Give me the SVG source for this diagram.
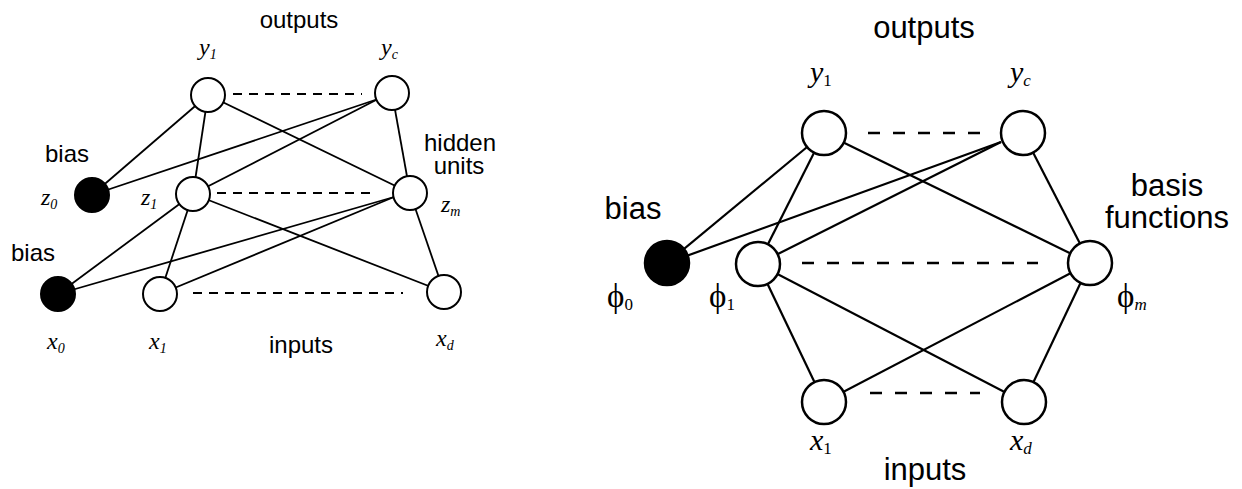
<svg xmlns="http://www.w3.org/2000/svg" width="1242" height="489" viewBox="0 0 1242 489">
<style>
  .bg{fill:#fff}
  .e1{stroke:#000;stroke-width:1.8;fill:none}
  .d1{stroke:#000;stroke-width:1.8;stroke-dasharray:9 7;fill:none}
  .e2{stroke:#000;stroke-width:2.2;fill:none}
  .d2{stroke:#000;stroke-width:2.6;stroke-dasharray:12 13;fill:none}
  .n1{fill:#fff;stroke:#000;stroke-width:2}
  .b1{fill:#000;stroke:#000;stroke-width:2}
  .n2{fill:#fff;stroke:#000;stroke-width:2.5}
  .b2{fill:#000;stroke:#000;stroke-width:2.5}
  .s1{font-family:"Liberation Sans",Arial,sans-serif;font-size:24px;text-anchor:middle;fill:#000}
  .s2{font-family:"Liberation Sans",Arial,sans-serif;font-size:31px;text-anchor:middle;fill:#000}
  .m1{font-family:"Liberation Serif","Times New Roman",serif;font-style:italic;font-size:24px;fill:#000}
  .m2{font-family:"Liberation Serif","Times New Roman",serif;font-style:italic;font-size:30px;fill:#000}
  .p2{font-family:"Liberation Serif","DejaVu Serif",serif;font-size:33px;fill:#000}
  .sb1{font-size:14px}
  .sb2{font-size:17px}
  .up{font-style:normal}
</style>
<rect class="bg" x="0" y="0" width="1242" height="489"/>

<g id="connectors">
  <!-- left network -->
  <line class="e1" x1="208" y1="95" x2="92" y2="195"/>
  <line class="e1" x1="208" y1="95" x2="193" y2="194"/>
  <line class="e1" x1="208" y1="95" x2="410" y2="193"/>
  <line class="e1" x1="378" y1="99" x2="92" y2="195"/>
  <line class="e1" x1="378" y1="99" x2="193" y2="194"/>
  <line class="e1" x1="392" y1="93" x2="410" y2="193"/>
  <line class="e1" x1="193" y1="194" x2="58" y2="294"/>
  <line class="e1" x1="193" y1="194" x2="160" y2="294"/>
  <line class="e1" x1="193" y1="194" x2="444" y2="292"/>
  <line class="e1" x1="394" y1="197" x2="58" y2="294"/>
  <line class="e1" x1="394" y1="197" x2="160" y2="294"/>
  <line class="e1" x1="410" y1="193" x2="444" y2="292"/>
  <line class="d1" x1="233" y1="94" x2="362" y2="94"/>
  <line class="d1" x1="217" y1="193" x2="377" y2="193"/>
  <line class="d1" x1="193" y1="293" x2="403" y2="293"/>
  <!-- right network -->
  <line class="e2" x1="824" y1="133" x2="667" y2="263"/>
  <line class="e2" x1="824" y1="133" x2="758" y2="264"/>
  <line class="e2" x1="824" y1="133" x2="1090" y2="263"/>
  <line class="e2" x1="1001" y1="142" x2="667" y2="263"/>
  <line class="e2" x1="1001" y1="142" x2="758" y2="264"/>
  <line class="e2" x1="1023" y1="133" x2="1090" y2="263"/>
  <line class="e2" x1="758" y1="264" x2="824" y2="402"/>
  <line class="e2" x1="758" y1="264" x2="1024" y2="402"/>
  <line class="e2" x1="1090" y1="263" x2="824" y2="402"/>
  <line class="e2" x1="1090" y1="263" x2="1024" y2="402"/>
  <line class="d2" x1="868" y1="133" x2="980" y2="133"/>
  <line class="d2" x1="802" y1="263" x2="1038" y2="263"/>
  <line class="d2" x1="870" y1="393" x2="980" y2="393"/>
</g>

<!-- left network nodes -->
<g id="L_y1"><circle class="n1" cx="208" cy="95" r="17"/><text class="m1" x="199" y="55">y<tspan class="sb1" dy="4">1</tspan></text></g>
<g id="L_yc"><circle class="n1" cx="392" cy="93" r="17"/><text class="m1" x="381" y="55">y<tspan class="sb1" dy="4">c</tspan></text></g>
<g id="L_z0"><circle class="b1" cx="92" cy="195" r="17"/><text class="m1" x="41" y="205">z<tspan class="sb1" dy="4">0</tspan></text></g>
<g id="L_z1"><circle class="n1" cx="193" cy="194" r="17"/><text class="m1" x="141" y="205">z<tspan class="sb1" dy="4">1</tspan></text></g>
<g id="L_zm"><circle class="n1" cx="410" cy="193" r="17"/><text class="m1" x="441" y="212">z<tspan class="sb1" dy="4">m</tspan></text></g>
<g id="L_x0"><circle class="b1" cx="58" cy="294" r="17"/><text class="m1" x="47" y="349">x<tspan class="sb1" dy="4">0</tspan></text></g>
<g id="L_x1"><circle class="n1" cx="160" cy="294" r="17"/><text class="m1" x="149" y="349">x<tspan class="sb1" dy="4">1</tspan></text></g>
<g id="L_xd"><circle class="n1" cx="444" cy="292" r="17"/><text class="m1" x="436" y="346">x<tspan class="sb1" dy="4">d</tspan></text></g>
<g id="L_labels">
  <text class="s1" x="299" y="28">outputs</text>
  <text class="s1" x="67" y="162">bias</text>
  <text class="s1" x="460" y="151">hidden</text>
  <text class="s1" x="459" y="174">units</text>
  <text class="s1" x="33" y="261">bias</text>
  <text class="s1" x="301" y="353">inputs</text>
</g>

<!-- right network nodes -->
<g id="R_y1"><ellipse class="n2" cx="824" cy="133" rx="22" ry="22"/><text class="m2" x="810" y="82">y<tspan class="sb2 up" dy="4">1</tspan></text></g>
<g id="R_yc"><ellipse class="n2" cx="1023" cy="133" rx="22" ry="22"/><text class="m2" x="1010" y="82">y<tspan class="sb2" dy="4">c</tspan></text></g>
<g id="R_phi0"><circle class="b2" cx="667" cy="263" r="22"/><text class="p2" x="607" y="307">ϕ<tspan class="sb2" dy="3">0</tspan></text></g>
<g id="R_phi1"><circle class="n2" cx="758" cy="264" r="22"/><text class="p2" x="709" y="307">ϕ<tspan class="sb2" dy="3">1</tspan></text></g>
<g id="R_phim"><circle class="n2" cx="1090" cy="263" r="22"/><text class="p2" x="1117" y="307">ϕ<tspan class="sb2" font-style="italic" dy="3">m</tspan></text></g>
<g id="R_x1"><circle class="n2" cx="824" cy="402" r="22"/><text class="m2" x="810" y="450">x<tspan class="sb2 up" dy="4">1</tspan></text></g>
<g id="R_xd"><circle class="n2" cx="1024" cy="402" r="22"/><text class="m2" x="1010" y="450">x<tspan class="sb2" dy="4">d</tspan></text></g>
<g id="R_labels">
  <text class="s2" x="924" y="38" font-size="32">outputs</text>
  <text class="s2" x="633" y="219">bias</text>
  <text class="s2" x="1167" y="196">basis</text>
  <text class="s2" x="1167" y="228">functions</text>
  <text class="s2" x="925" y="480">inputs</text>
</g>
</svg>
